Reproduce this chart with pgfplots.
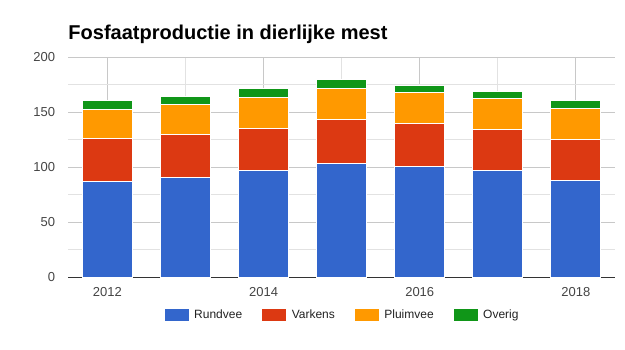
\documentclass[border=0pt]{standalone}
\usepackage{fontspec}
\setmainfont{Liberation Sans}
\usepackage{pgfplots}
\pgfplotsset{compat=1.18}
\definecolor{rundvee}{HTML}{3366CC}
\definecolor{varkens}{HTML}{DC3912}
\definecolor{pluimvee}{HTML}{FF9900}
\definecolor{overig}{HTML}{109618}
\definecolor{gridmajor}{HTML}{C8C8C8}
\definecolor{gridminor}{HTML}{E2E2E2}
\definecolor{basecol}{HTML}{333333}
\definecolor{labelcol}{HTML}{444444}
\definecolor{legcol}{HTML}{222222}
\begin{document}
\begin{tikzpicture}
\path (0,0) rectangle (625bp,350bp);
\begin{axis}[
  at={(68.3bp,72.7bp)}, anchor=south west,
  scale only axis, width=546.7bp, height=220bp,
  xmin=2011.5, xmax=2018.5, ymin=0, ymax=200,
  clip=false,
  ybar stacked, bar width=50bp,
  axis line style={draw=none},
  xtick={2012,2014,2016,2018}, xticklabels={2012,2014,2016,2018},
  ytick={0,50,100,150,200},
  minor x tick num=1, minor y tick num=1,
  major tick length=0pt, minor tick length=0pt,
  xmajorgrids=true, ymajorgrids=true, xminorgrids=true, yminorgrids=true,
  major grid style={gridmajor, line width=1bp},
  minor grid style={gridminor, line width=1bp},
  /pgf/number format/assume math mode=true,
  tick label style={font=\fontsize{13bp}{15bp}\selectfont, text=labelcol, inner sep=0pt},
  yticklabel style={anchor=east, xshift=-13bp},
  xticklabel style={anchor=north, yshift=-10bp},
  legend columns=4,
  legend style={at={(0.5,-0.1714)}, anchor=center, draw=none, inner sep=0pt,
    font=\fontsize{12bp}{14bp}\selectfont, text=legcol,
    nodes={inner sep=0pt, anchor=west},
    /tikz/every even column/.append style={column sep=20bp}},
  legend image code/.code={\path[#1, draw=none] (0bp,-6bp) rectangle (24bp,6bp); \path (29bp,0bp);},
  every axis plot/.append style={draw=white, line width=1bp},
]
\addplot[fill=rundvee] coordinates {(2012,87.0) (2013,90.6) (2014,97.0) (2015,103.3) (2016,100.6) (2017,97.0) (2018,87.9)};
\addplot[fill=varkens] coordinates {(2012,39.1) (2013,39.1) (2014,38.5) (2015,40.0) (2016,39.1) (2017,37.2) (2018,37.3)};
\addplot[fill=pluimvee] coordinates {(2012,26.6) (2013,27.3) (2014,28.1) (2015,28.2) (2016,28.2) (2017,28.2) (2018,28.1)};
\addplot[fill=overig] coordinates {(2012,7.6) (2013,7.8) (2014,7.6) (2015,7.9) (2016,6.9) (2017,6.1) (2018,7.0)};
\legend{Rundvee,Varkens,Pluimvee,Overig}
\draw[basecol, line width=1bp] (rel axis cs:0,0) -- (rel axis cs:1,0);
\node[anchor=base west, inner sep=0pt, yshift=18.3bp, font=\fontsize{20bp}{24bp}\selectfont\bfseries] at (rel axis cs:0,1) {Fosfaatproductie in dierlijke mest};
\end{axis}
\end{tikzpicture}
\end{document}
